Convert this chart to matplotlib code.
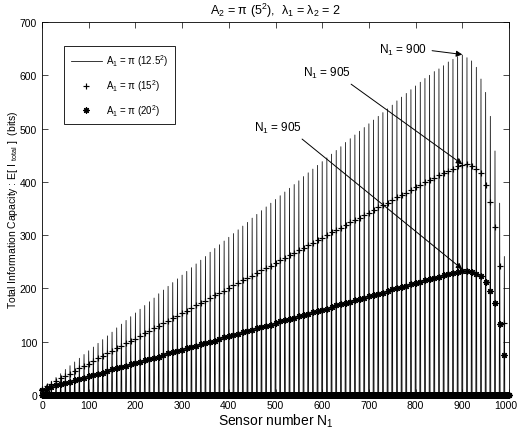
import numpy as np
import matplotlib
matplotlib.use("Agg")
import matplotlib.pyplot as plt
from matplotlib.transforms import ScaledTranslation

plt.rcParams['font.family'] = ['Liberation Sans', 'DejaVu Sans']
plt.rcParams['mathtext.fontset'] = 'custom'
plt.rcParams['mathtext.rm'] = 'Liberation Sans'
plt.rcParams['mathtext.it'] = 'Liberation Sans'

# Sensor numbers at which the capacity is evaluated (every 10th sensor); zero elsewhere
sample_n = list(range(0, 1001, 10))

cap_a125 = [12, 19, 26, 33, 40, 48, 55, 62, 69, 76,
            83, 90, 97, 104, 111, 118, 126, 133, 140, 147,
            154, 161, 168, 175, 182, 190, 197, 204, 211, 218,
            225, 232, 239, 246, 253, 260, 268, 275, 282, 289,
            296, 303, 310, 317, 324, 332, 339, 346, 353, 360,
            367, 374, 381, 388, 395, 402, 410, 417, 424, 431,
            438, 445, 452, 459, 466, 474, 481, 488, 495, 502,
            509, 516, 523, 530, 537, 544, 552, 559, 566, 573,
            580, 587, 594, 600, 607, 612, 618, 625, 630, 635,
            638, 633, 627, 615, 593, 568, 523, 458, 360, 260,
            0]

cap_a15 = [12, 17, 21, 26, 31, 36, 40, 45, 50, 54,
           59, 64, 69, 73, 78, 83, 88, 92, 97, 102,
           106, 111, 116, 121, 125, 130, 135, 139, 144, 149,
           154, 158, 163, 168, 172, 177, 182, 187, 191, 196,
           201, 206, 210, 215, 220, 224, 229, 234, 239, 243,
           248, 253, 257, 262, 267, 272, 276, 281, 286, 290,
           295, 300, 305, 309, 314, 319, 324, 328, 333, 338,
           342, 347, 352, 357, 361, 366, 371, 375, 380, 385,
           390, 394, 399, 404, 408, 413, 417, 421, 425, 429,
           432, 433, 430, 425, 417, 395, 363, 315, 243, 136,
           0]

cap_a20 = [10, 12, 15, 18, 20, 22, 25, 28, 30, 32,
           35, 38, 40, 42, 45, 48, 50, 52, 55, 58,
           60, 62, 65, 68, 70, 72, 75, 78, 80, 82,
           85, 88, 90, 92, 95, 98, 100, 102, 105, 108,
           110, 112, 115, 118, 120, 122, 125, 128, 130, 132,
           135, 138, 140, 142, 145, 148, 150, 152, 155, 158,
           160, 162, 165, 168, 170, 172, 175, 178, 180, 182,
           185, 188, 190, 192, 195, 198, 200, 202, 205, 208,
           210, 212, 215, 217, 220, 222, 225, 227, 229, 231,
           233, 233, 231, 228, 223, 212, 196, 172, 133, 76,
           0]

x_ticks = list(range(0, 1001, 100))
y_ticks = list(range(0, 701, 100))

n_all = np.arange(0, 1001)

def expand(vals):
    y = np.zeros(len(n_all))
    y[np.array(sample_n)] = vals
    return y

fig = plt.figure(figsize=(5.18, 4.31), dpi=100)
ax = fig.add_axes([42/518, 1-396/431, (509-42)/518, (396-23)/431])

ax.plot(n_all, expand(cap_a125), '-', color='k', lw=0.55,
        label=r'A$_1$ = π (12.5$^2$)')
ax.plot(n_all, expand(cap_a15), linestyle='none', marker='+', ms=5, mew=0.85,
        color='k', label=r'A$_1$ = π (15$^2$)', clip_on=False)
ax.plot(n_all, expand(cap_a20), linestyle='none', marker=(8, 2, 0), ms=4.5, mew=0.85,
        color='k', label=r'A$_1$ = π (20$^2$)', clip_on=False)

ax.set_xlim(0, 1000)
ax.set_ylim(0, 700)
ax.set_xticks(x_ticks)
ax.set_yticks(y_ticks)
ax.tick_params(direction='in', top=True, right=True, labelsize=7.5, length=4, width=0.5)
for s in ax.spines.values():
    s.set_linewidth(0.6)
# keep the last x tick label inside the figure
lastlab = ax.get_xticklabels()[-1]
lastlab.set_transform(lastlab.get_transform() + ScaledTranslation(-3/100, 0, fig.dpi_scale_trans))

ax.set_title(r'A$_2$ = π (5$^2$),  λ$_1$ = λ$_2$ = 2', fontsize=9, pad=6)
ax.set_xlabel(r'Sensor number N$_1$', fontsize=10, labelpad=1)
ax.set_ylabel(r'Total Information Capacity : E[ I $_{total}$ ]  (bits)', fontsize=7.5, labelpad=0)

leg = ax.legend(loc='upper left', bbox_to_anchor=(0.047, 0.936), borderaxespad=0,
                fontsize=7, fancybox=False, edgecolor='k', framealpha=1,
                handlelength=3.2, handletextpad=0.4, borderpad=0.7, labelspacing=0.9)
leg.get_frame().set_linewidth(0.6)

arrow = dict(arrowstyle='-|>', lw=0.7, color='k', mutation_scale=9, shrinkA=0, shrinkB=0)
ax.annotate(r'N$_1$ = 900', xy=(900, 639), xytext=(722, 649), fontsize=8.5,
            va='center', arrowprops=dict(arrow, relpos=(1.1, 0.4)))
ax.annotate(r'N$_1$ = 905', xy=(900, 433), xytext=(559, 606), fontsize=8.5,
            va='center', arrowprops=dict(arrow, relpos=(1.0, -0.3)))
ax.annotate(r'N$_1$ = 905', xy=(900, 236), xytext=(454, 503), fontsize=8.5,
            va='center', arrowprops=dict(arrow, relpos=(1.0, -0.3)))

fig.savefig('out.png', dpi=100)
